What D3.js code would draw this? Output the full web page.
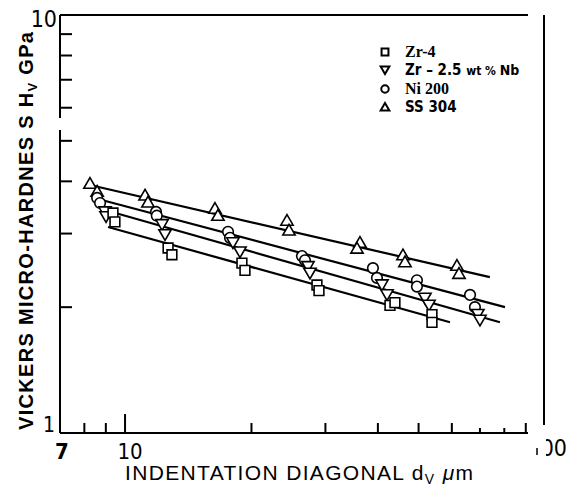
<!DOCTYPE html>
<html><head><meta charset="utf-8">
<script src="https://cdn.jsdelivr.net/npm/d3@7"></script>
<style>body{margin:0;background:#fff}svg{display:block}</style>
</head><body>
<svg id="c" width="575" height="493"></svg>
<script>
// ---- data (d in µm, Hv in GPa) ----
const seriesNames = ["Zr-4", "Zr-2.5Nb", "Ni 200", "SS 304"];
const ss304_d = [8.25, 8.58, 11.16, 11.34, 16.37, 16.64, 24.30, 24.57, 36.26, 35.67, 45.9, 46.4, 61.7, 62.4];
const ss304_H = [3.96, 3.79, 3.71, 3.57, 3.45, 3.32, 3.23, 3.06, 2.86, 2.77, 2.67, 2.57, 2.52, 2.41];
const ni200_d = [8.58, 8.72, 11.85, 11.9, 17.59, 17.78, 26.38, 26.82, 38.93, 39.80, 49.55, 49.55, 66.3, 68.1];
const ni200_H = [3.65, 3.55, 3.38, 3.31, 3.03, 2.93, 2.65, 2.59, 2.48, 2.35, 2.32, 2.24, 2.14, 2.00];
const zrnb_d = [8.96, 9.01, 12.25, 12.45, 18.07, 18.78, 27.26, 27.56, 40.90, 42.05, 51.77, 52.93, 69.2, 70.0];
const zrnb_H = [3.38, 3.29, 3.15, 2.98, 2.85, 2.71, 2.50, 2.41, 2.26, 2.14, 2.10, 2.02, 1.92, 1.86];
const zr4_d = [9.36, 9.46, 12.66, 12.93, 18.98, 19.30, 28.64, 28.96, 42.74, 43.92, 53.81, 53.81];
const zr4_H = [3.36, 3.20, 2.77, 2.67, 2.55, 2.45, 2.26, 2.19, 2.02, 2.05, 1.92, 1.84];
// fitted line end points [d1, H1, d2, H2]
const ss304_fit = [8.25, 3.92, 73.9, 2.36];
const ni200_fit = [8.62, 3.63, 80.3, 2.00];
const zrnb_fit = [8.91, 3.42, 78.1, 1.84];
const zr4_fit = [9.11, 3.11, 59.4, 1.84];
const xTicks = [8, 9, 10, 20, 30, 40, 50, 60, 70, 80, 90];
const yTicks = [2, 3, 4, 5, 6, 7, 8, 9];

const svg = d3.select("#c");
const x = d3.scaleLog().domain([7, 100]).range([60, 545]);
const y = d3.scaleLog().domain([1, 10]).range([433, 15]);
const black = "#000";

// frame
const g = svg.append("g").attr("stroke", black).attr("stroke-width", 2).attr("fill", "none");
g.append("line").attr("x1", x(7)).attr("x2", 528).attr("y1", y(10)).attr("y2", y(10));
g.append("line").attr("x1", x(7)).attr("x2", 528).attr("y1", y(1)).attr("y2", y(1));
g.append("line").attr("x1", x(7)).attr("x2", x(7)).attr("y1", y(10)).attr("y2", 118);
g.append("line").attr("x1", x(7)).attr("x2", x(7)).attr("y1", 130).attr("y2", y(1));
g.append("line").attr("x1", 544).attr("x2", 544).attr("y1", y(10)).attr("y2", 425);

// y ticks
g.selectAll(".yt").data(yTicks).join("line")
  .attr("x1", x(7)).attr("x2", x(7) + 12)
  .attr("y1", d => y(d)).attr("y2", d => y(d));
// x ticks
const tlen = d => d === 10 ? 19 : (d === 70 || d === 80 ? 5 : 10);
g.selectAll(".xt").data(xTicks).join("line")
  .attr("x1", d => x(d)).attr("x2", d => x(d))
  .attr("y1", y(1)).attr("y2", d => y(1) - tlen(d));

// tick labels
const lf = "'Liberation Sans Narrow','DejaVu Sans Condensed',sans-serif";
svg.append("text").attr("x", 57).attr("y", 27).attr("text-anchor", "end")
  .attr("font-family", lf).attr("font-size", 23).text("10");
svg.append("text").attr("x", 55).attr("y", 432).attr("text-anchor", "end")
  .attr("font-family", lf).attr("font-size", 21).text("1");
svg.append("text").attr("x", x(7) + 2).attr("y", 459).attr("text-anchor", "middle")
  .attr("font-family", lf).attr("font-size", 22).attr("font-weight", "bold").text("7");
svg.append("text").attr("x", x(10) + 5).attr("y", 459).attr("text-anchor", "middle")
  .attr("font-family", lf).attr("font-size", 22).text("10");
svg.append("clipPath").attr("id", "cp").append("rect").attr("x", 546).attr("y", 430).attr("width", 40).attr("height", 40);
svg.append("text").attr("x", 567).attr("y", 456).attr("text-anchor", "end").attr("clip-path", "url(#cp)")
  .attr("font-family", lf).attr("font-size", 23).text("100");
svg.append("line").attr("x1", 537).attr("x2", 537).attr("y1", 448).attr("y2", 455).attr("stroke", black).attr("stroke-width", 1.5);

// axis titles
const yt = svg.append("text").attr("transform", "translate(33,430) rotate(-90)")
  .attr("font-family", "'Liberation Sans','Arial',sans-serif").attr("font-size", 20).attr("font-weight", "bold")
  .attr("textLength", 398).attr("lengthAdjust", "spacing");
yt.append("tspan").text("VICKERS MICRO-HARDNES S ");
yt.append("tspan").attr("font-weight", "900").text("H");
yt.append("tspan").attr("font-size", 13).attr("dy", 4).text("V");
yt.append("tspan").attr("dy", -4).text(" GPa");

const xt = svg.append("text").attr("x", 125).attr("y", 480)
  .attr("font-family", "'Liberation Sans','Arial',sans-serif").attr("font-size", 21)
  .attr("textLength", 348).attr("lengthAdjust", "spacing");
xt.append("tspan").text("INDENTATION  DIAGONAL d");
xt.append("tspan").attr("font-size", 14).attr("dy", 4).text("V");
xt.append("tspan").attr("dy", -4).attr("font-style", "italic").text(" \u03bc");
xt.append("tspan").text("m");

// fitted lines
const fits = [ss304_fit, ni200_fit, zrnb_fit, zr4_fit];
svg.append("g").selectAll("line").data(fits).join("line")
  .attr("x1", f => x(f[0])).attr("y1", f => y(f[1]))
  .attr("x2", f => x(f[2])).attr("y2", f => y(f[3]))
  .attr("stroke", black).attr("stroke-width", 2.2);

// markers
const sym = {
  "SS 304": {shape: d3.symbolTriangle, rot: 0, size: 66},
  "Ni 200": {shape: d3.symbolCircle, rot: 0, size: 88},
  "Zr-2.5Nb": {shape: d3.symbolTriangle, rot: 180, size: 66},
  "Zr-4": {shape: d3.symbolSquare, rot: 0, size: 95}
};
const sets = [
  ["SS 304", ss304_d, ss304_H],
  ["Ni 200", ni200_d, ni200_H],
  ["Zr-2.5Nb", zrnb_d, zrnb_H],
  ["Zr-4", zr4_d, zr4_H]
];
sets.forEach(([name, ds, hs]) => {
  const s = sym[name];
  const pts = ds.map((d, i) => [d, hs[i]]);
  svg.append("g").selectAll("path").data(pts).join("path")
    .attr("d", d3.symbol(s.shape, s.size))
    .attr("transform", p => `translate(${x(p[0])},${y(p[1]) + (s.rot ? -1.5 : (s.shape === d3.symbolTriangle ? 1.5 : 0))}) rotate(${s.rot})`)
    .attr("fill", "#fff").attr("stroke", black).attr("stroke-width", 1.6);
});

// legend
const legend = [
  {name: "Zr-4", y: 52},
  {name: "Zr-2.5Nb", y: 70},
  {name: "Ni 200", y: 89},
  {name: "SS 304", y: 107}
];
legend.forEach(l => {
  const s = sym[l.name];
  svg.append("path").attr("d", d3.symbol(s.shape, s.size * 0.5))
    .attr("transform", `translate(385,${l.y + (s.rot ? -1 : (s.shape === d3.symbolTriangle ? 1 : 0))}) rotate(${s.rot})`)
    .attr("fill", "#fff").attr("stroke", black).attr("stroke-width", 2);
});
const serif = "'Liberation Serif','Times New Roman',serif";
svg.append("text").attr("x", 405).attr("y", 57).attr("font-family", serif).attr("font-weight", "bold")
  .attr("font-size", 16).text("Zr-4");
const t2 = svg.append("text").attr("x", 405).attr("y", 75).attr("font-family", lf).attr("font-weight", "bold").attr("font-size", 15);
t2.append("tspan").text("Zr \u2013 2.5 ");
t2.append("tspan").attr("font-size", 12).text("wt % ");
t2.append("tspan").attr("font-size", 14).text("Nb");
svg.append("text").attr("x", 405).attr("y", 94).attr("font-family", serif).attr("font-weight", "bold")
  .attr("font-size", 16).text("Ni 200");
svg.append("text").attr("x", 405).attr("y", 112).attr("font-family", lf).attr("font-weight", "bold")
  .attr("font-size", 15).text("SS 304");
</script>
</body></html>
